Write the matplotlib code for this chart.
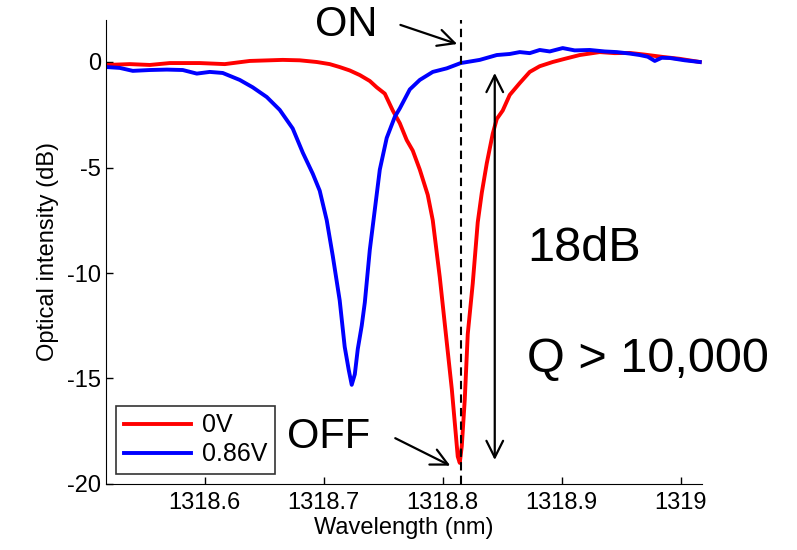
import matplotlib
matplotlib.use('Agg')
import matplotlib.pyplot as plt

plt.rcParams['font.family'] = ['Liberation Sans', 'DejaVu Sans']
plt.rcParams['axes.unicode_minus'] = False

# 0.86 V bias (blue)
wl_blue = [1318.5176, 1318.5286, 1318.5395, 1318.5538, 1318.5681, 1318.5815, 1318.5933,
           1318.6042, 1318.6151, 1318.6294, 1318.6403, 1318.6521, 1318.6630, 1318.6739,
           1318.6824, 1318.6908, 1318.6966, 1318.7025, 1318.7076, 1318.7134, 1318.7176,
           1318.7210, 1318.7235, 1318.7261, 1318.7286, 1318.7319, 1318.7345, 1318.7387,
           1318.7429, 1318.7471, 1318.7529, 1318.7597, 1318.7639, 1318.7723, 1318.7807,
           1318.7916, 1318.8034, 1318.8151, 1318.8311, 1318.8454, 1318.8563, 1318.8647,
           1318.8731, 1318.8815, 1318.8899, 1318.9008, 1318.9109, 1318.9235, 1318.9361,
           1318.9462, 1318.9571, 1318.9655, 1318.9723, 1318.9782, 1318.9840, 1318.9908,
           1319.0034, 1319.0160]
db_blue = [-0.24, -0.28, -0.42, -0.38, -0.36, -0.38, -0.55,
           -0.47, -0.52, -0.85, -1.2, -1.66, -2.27, -3.15,
           -4.3, -5.3, -6.1, -7.5, -9.2, -11.3, -13.5,
           -14.6, -15.3, -14.8, -13.6, -12.5, -11.4, -8.9,
           -7.0, -5.1, -3.6, -2.6, -2.2, -1.3, -0.85,
           -0.47, -0.3, -0.05, 0.1, 0.33, 0.38, 0.47,
           0.42, 0.57, 0.5, 0.66, 0.55, 0.57, 0.5,
           0.47, 0.4, 0.33, 0.25, 0.05, 0.2, 0.19,
           0.08, 0.0]

# 0 V bias (red)
wl_red = [1318.5176, 1318.5370, 1318.5538, 1318.5706, 1318.5958, 1318.6168, 1318.6378,
          1318.6655, 1318.6798, 1318.6941, 1318.7050, 1318.7134, 1318.7218, 1318.7303,
          1318.7387, 1318.7445, 1318.7513, 1318.7580, 1318.7639, 1318.7697, 1318.7748,
          1318.7807, 1318.7874, 1318.7916, 1318.7975, 1318.8034, 1318.8076, 1318.8109,
          1318.8126, 1318.8143, 1318.8160, 1318.8185, 1318.8210, 1318.8252, 1318.8294,
          1318.8328, 1318.8370, 1318.8420, 1318.8454, 1318.8504, 1318.8563, 1318.8647,
          1318.8731, 1318.8815, 1318.8924, 1318.9025, 1318.9151, 1318.9235, 1318.9319,
          1318.9445, 1318.9571, 1318.9697, 1318.9849, 1318.9992, 1319.0160]
db_red = [-0.14, -0.1, -0.14, -0.05, -0.05, -0.1, 0.05,
          0.1, 0.08, 0.0, -0.1, -0.24, -0.4, -0.62,
          -0.9, -1.2, -1.5, -2.3, -2.9, -3.7, -4.2,
          -5.1, -6.3, -7.5, -10.2, -13.3, -15.5, -17.6,
          -18.7, -19.0, -18.2, -16.0, -12.9, -10.5, -7.6,
          -6.2, -4.8, -3.4, -2.7, -2.3, -1.56, -1.0,
          -0.47, -0.2, 0.0, 0.15, 0.33, 0.4, 0.47,
          0.42, 0.43, 0.35, 0.24, 0.15, 0.0]

xticks = [1318.6, 1318.7, 1318.8, 1318.9, 1319.0]
xticklabels = ['1318.6', '1318.7', '1318.8', '1318.9', '1319']
yticks = [-20, -15, -10, -5, 0]

resonance = 1318.815

fig = plt.figure(figsize=(7.97, 5.5), dpi=100)
ax = fig.add_axes([0.133, 0.12, 0.748, 0.844])

ax.plot(wl_red, db_red, color='#ff0000', lw=2.8, label='0V')
ax.plot(wl_blue, db_blue, color='#0000ff', lw=2.8, label='0.86V')
ax.axvline(resonance, color='black', lw=1.5, ls=(0, (4, 2.5)))

ax.set_xlim(1318.517, 1319.018)
ax.set_ylim(-20, 2)
ax.set_xticks(xticks)
ax.set_xticklabels(xticklabels)
ax.set_yticks(yticks)
ax.tick_params(direction='in', length=5, labelsize=17, width=1)
ax.tick_params(axis='x', pad=6)
ax.spines['top'].set_visible(False)
ax.spines['right'].set_visible(False)
ax.set_xlabel('Wavelength (nm)', fontsize=17, labelpad=2)
ax.set_ylabel('Optical intensity (dB)', fontsize=17, labelpad=6)

# annotations
ax.text(1318.7185, 1.75, 'ON', fontsize=30, ha='center', va='center')
ax.annotate('', xy=(1318.8143, 0.81), xytext=(1318.7622, 1.80),
            arrowprops=dict(arrowstyle='->', lw=1.6, mutation_scale=30))
ax.text(1318.7042, -17.77, 'OFF', fontsize=30, ha='center', va='center')
ax.annotate('', xy=(1318.8084, -19.19), xytext=(1318.758, -17.77),
            arrowprops=dict(arrowstyle='->', lw=1.6, mutation_scale=30))
ax.annotate('', xy=(1318.8437, -0.52), xytext=(1318.8437, -18.86),
            arrowprops=dict(arrowstyle='<->', lw=1.6, mutation_scale=30,
                            shrinkA=0, shrinkB=0))
ax.text(1318.8706, -8.82, '18dB', fontsize=35, ha='left', va='center')
ax.text(1318.8706, -14.12, 'Q > 10,000', fontsize=35, ha='left', va='center')

leg = ax.legend(loc='lower left', bbox_to_anchor=(0.017, 0.022), borderaxespad=0,
                fontsize=18, frameon=True, fancybox=False, handlelength=2.7,
                handletextpad=0.45, borderpad=0.3, labelspacing=0.2)
leg.get_frame().set_edgecolor('black')
leg.get_frame().set_linewidth(1.2)

fig.savefig('out.png', dpi=100)
